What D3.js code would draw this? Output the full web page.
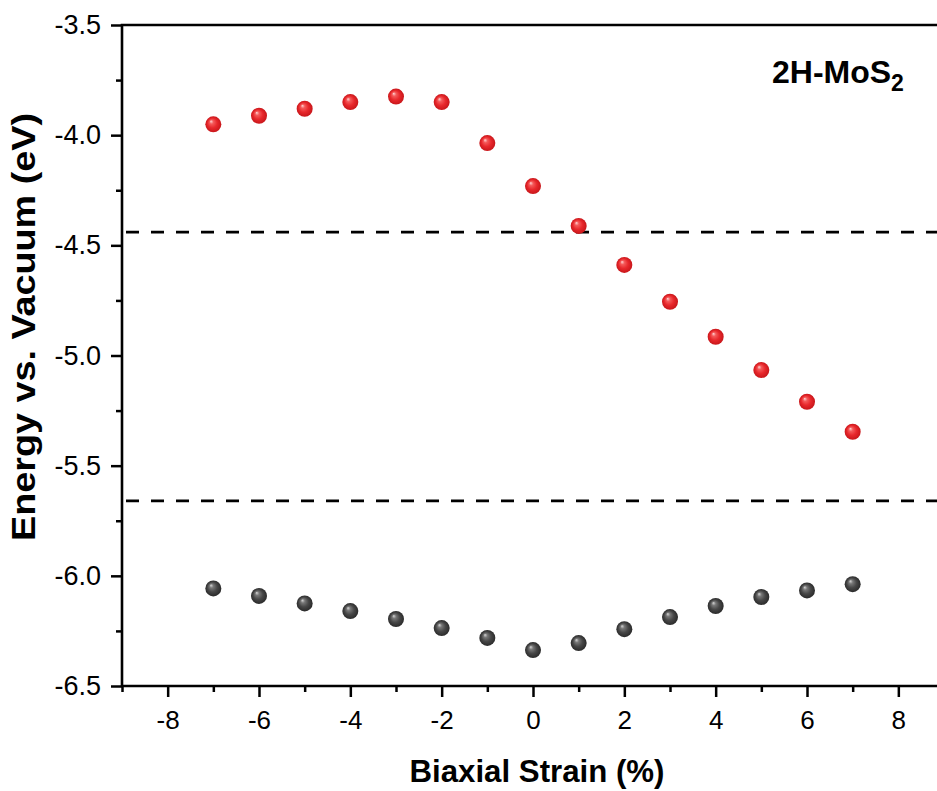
<!DOCTYPE html>
<html>
<head>
<meta charset="utf-8">
<script src="https://cdn.jsdelivr.net/npm/d3@7"></script>
<style>
  html, body { margin: 0; padding: 0; background: #fff; }
  svg { display: block; font-family: "Liberation Sans", Arial, sans-serif; }
</style>
</head>
<body>
<svg id="chart" width="937" height="791"></svg>
<script>
// ---- data ----
const strain = [-7, -6, -5, -4, -3, -2, -1, 0, 1, 2, 3, 4, 5, 6, 7];
const cbm = [-3.951, -3.912, -3.880, -3.850, -3.825, -3.850, -4.036, -4.231, -4.412, -4.589, -4.756, -4.915, -5.066, -5.210, -5.346];
const vbm = [-6.057, -6.091, -6.125, -6.160, -6.196, -6.237, -6.282, -6.337, -6.305, -6.242, -6.187, -6.137, -6.096, -6.066, -6.038];
const refLevels = [-4.44, -5.66];
const xTicks = [-8, -6, -4, -2, 0, 2, 4, 6, 8];
const yTicks = [-3.5, -4.0, -4.5, -5.0, -5.5, -6.0, -6.5];
const xTitle = "Biaxial Strain (%)";
const yTitle = "Energy vs. Vacuum (eV)";

(function () {
const svg = d3.select("#chart");
const mL = 122, mR = 944, mT = 25, mB = 686;

const x = d3.scaleLinear().domain([-9, 9]).range([mL, mR]);
const y = d3.scaleLinear().domain([-3.5, -6.5]).range([mT, mB]);

// gradients for sphere markers
const defs = svg.append("defs");
function sphere(id, stops) {
  const g = defs.append("radialGradient").attr("id", id)
    .attr("cx", "50%").attr("cy", "50%").attr("r", "50%")
    .attr("fx", "35%").attr("fy", "30%");
  stops.forEach(s => g.append("stop").attr("offset", s[0]).attr("stop-color", s[1]));
}
sphere("gRed", [["0%", "#ffd6d6"], ["25%", "#f45a5a"], ["60%", "#e8282c"], ["100%", "#c8161a"]]);
sphere("gBlk", [["0%", "#d8d8d8"], ["25%", "#777777"], ["60%", "#474747"], ["100%", "#2a2a2a"]]);

// dashed reference lines
svg.selectAll("line.ref").data(refLevels).enter().append("line")
  .attr("class", "ref")
  .attr("x1", mL + 4).attr("x2", 937)
  .attr("y1", d => y(d)).attr("y2", d => y(d))
  .attr("stroke", "#000").attr("stroke-width", 2.6)
  .attr("stroke-dasharray", "13,12");

// axes
const hy = s => s.replace("\u2212", "-");
const xAxis = d3.axisBottom(x).tickValues(xTicks).tickSize(11).tickPadding(14)
  .tickFormat(d => hy(d3.format("d")(d)));
const xMinor = d3.axisBottom(x).tickValues(d3.range(-9, 10, 2)).tickSize(6).tickFormat("");
const yAxis = d3.axisLeft(y).tickValues(yTicks).tickSize(11).tickPadding(10)
  .tickFormat(d => hy(d3.format(".1f")(d)));
const yMinor = d3.axisLeft(y).tickValues(d3.range(-3.75, -6.5, -0.5)).tickSize(6).tickFormat("");

function style(size) {
  return g => {
    g.attr("font-size", null).attr("font-family", null);
    g.select(".domain").remove();
    g.selectAll("line").attr("stroke", "#000").attr("stroke-width", 2.5);
    g.selectAll("text").attr("fill", "#000").style("font-size", size + "px")
      .style("font-family", "'Liberation Sans', Arial, sans-serif");
  };
}
svg.append("g").attr("transform", `translate(0,${mB})`).call(xAxis).call(style(26));
svg.append("g").attr("transform", `translate(0,${mB})`).call(xMinor).call(style(26));
svg.append("g").attr("transform", `translate(${mL},0)`).call(yAxis).call(style(27));
svg.append("g").attr("transform", `translate(${mL},0)`).call(yMinor).call(style(27));

// frame lines (left, bottom, top)
svg.append("path")
  .attr("d", `M${mL},${mB}H${mR}M${mL},${mB}V${mT}H${mR}`)
  .attr("fill", "none").attr("stroke", "#000").attr("stroke-width", 2.6);

// markers
const cbData = strain.map((s, i) => ({s, v: cbm[i]}));
const vbData = strain.map((s, i) => ({s, v: vbm[i]}));
svg.append("g").selectAll("circle").data(cbData).enter().append("circle")
  .attr("cx", d => x(d.s)).attr("cy", d => y(d.v)).attr("r", 8)
  .attr("fill", "url(#gRed)");
svg.append("g").selectAll("circle").data(vbData).enter().append("circle")
  .attr("cx", d => x(d.s)).attr("cy", d => y(d.v)).attr("r", 8)
  .attr("fill", "url(#gBlk)");

// titles
svg.append("text").attr("x", 537).attr("y", 782)
  .attr("text-anchor", "middle").attr("font-weight", "bold").attr("font-size", 31)
  .attr("textLength", 255).attr("lengthAdjust", "spacingAndGlyphs")
  .text(xTitle);
svg.append("text").attr("transform", `translate(35,${(113 + 541) / 2}) rotate(-90)`)
  .attr("text-anchor", "middle").attr("font-weight", "bold").attr("font-size", 34)
  .attr("textLength", 428).attr("lengthAdjust", "spacingAndGlyphs")
  .text(yTitle);

// label
const lab = svg.append("text").attr("x", 772).attr("y", 83)
  .attr("font-weight", "bold").attr("font-size", 32);
lab.append("tspan").text("2H-MoS");
lab.append("tspan").attr("dy", 8).attr("font-size", 23).text("2");
})();
</script>
</body>
</html>
